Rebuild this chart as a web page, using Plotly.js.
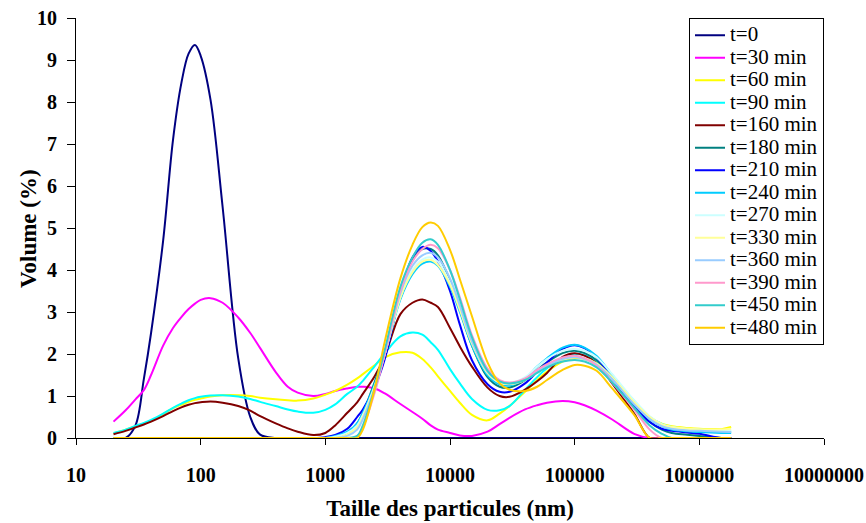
<!DOCTYPE html>
<html>
<head>
<meta charset="utf-8">
<script src="https://cdn.plot.ly/plotly-3.0.1.min.js"></script>
<style>html,body{margin:0;padding:0;background:#fff;}#chart{width:866px;height:523px;}</style>
</head>
<body>
<div id="chart"></div>
<script>
// Particle size (nm)
const sizes = [20,25,30,35,40,50,60,70,80,90,
  100,120,150,200,250,300,400,500,600,800,
  1000,1200,1500,1800,2000,2500,3000,4000,5000,6000,
  7000,8000,10000,12000,15000,20000,25000,30000,40000,50000,
  60000,80000,100000,120000,150000,200000,300000,400000,500000,600000,
  800000,1000000,1500000,1800000];

const t0 = [0,0,0.3,1.4,2.5,4.7,7.1,8.45,9.15,9.36,
  9.1,8.05,5.5,1.9,0.5,0.08,0,0,0,0,
  0,0,0,0,0,0,0,0,0,0,
  0,0,0,0,0,0,0,0,0,0,
  0,0,0,0,0,0,0,0,0,0,
  0,0,0,0];
const t30 = [0.39,0.66,0.92,1.14,1.5,2.2,2.62,2.88,3.07,3.2,
  3.29,3.33,3.22,2.87,2.5,2.14,1.57,1.22,1.08,1.0,
  1.05,1.12,1.18,1.22,1.22,1.18,1.06,0.81,0.62,0.46,
  0.3,0.2,0.12,0.06,0.05,0.15,0.33,0.48,0.68,0.78,
  0.84,0.88,0.85,0.78,0.65,0.44,0.1,0,0,0,
  0,0,0,0];
const t60 = [0.11,0.2,0.28,0.34,0.4,0.57,0.71,0.79,0.86,0.91,
  0.94,0.99,1.02,1.02,1.0,0.96,0.92,0.9,0.89,0.94,
  1.03,1.12,1.27,1.42,1.52,1.74,1.92,2.04,2.03,1.88,
  1.68,1.47,1.12,0.84,0.55,0.42,0.58,0.76,1.1,1.38,
  1.58,1.82,1.9,1.88,1.76,1.42,0.85,0.5,0.34,0.28,
  0.24,0.22,0.21,0.26];
const t90 = [0.12,0.2,0.29,0.36,0.43,0.58,0.72,0.82,0.9,0.95,
  0.98,1.01,1.02,0.99,0.93,0.86,0.76,0.68,0.63,0.6,
  0.67,0.8,1.05,1.22,1.36,1.72,2.02,2.42,2.51,2.46,
  2.28,2.1,1.64,1.3,0.93,0.67,0.66,0.76,1.15,1.45,
  1.66,1.9,2.0,1.97,1.83,1.46,0.88,0.5,0.33,0.26,
  0.2,0.18,0.16,0.15];
const t160 = [0.09,0.17,0.25,0.32,0.39,0.52,0.64,0.73,0.79,0.83,
  0.85,0.87,0.84,0.76,0.65,0.52,0.35,0.23,0.15,0.07,
  0.12,0.3,0.6,0.85,1.05,1.48,1.95,2.95,3.22,3.3,
  3.22,3.12,2.62,2.18,1.7,1.2,1.0,0.98,1.15,1.35,
  1.55,1.93,2.02,1.96,1.78,1.3,0.58,0,0,0,
  0,0,0,0];
const t180 = [0,0,0,0,0,0,0,0,0,0,
  0,0,0,0,0,0,0,0,0,0,
  0,0,0.1,0.35,0.6,1.35,2.05,3.5,4.25,4.5,
  4.5,4.35,3.75,3.05,2.2,1.45,1.22,1.2,1.38,1.62,
  1.8,2.02,2.08,2.02,1.85,1.42,0.78,0.38,0.2,0.12,
  0.08,0.05,0,0];
const t210 = [0,0,0,0,0,0,0,0,0,0,
  0,0,0,0,0,0,0,0,0,0,
  0.02,0.07,0.22,0.5,0.68,1.22,1.88,3.45,4.3,4.55,
  4.45,4.2,3.5,2.7,1.85,1.28,1.1,1.1,1.3,1.58,
  1.8,2.12,2.21,2.14,1.92,1.42,0.75,0.38,0.22,0.17,
  0.13,0.1,0,0];
const t240 = [0,0,0,0,0,0,0,0,0,0,
  0,0,0,0,0,0,0,0,0,0,
  0,0.05,0.15,0.35,0.6,1.3,2.0,3.3,3.9,4.15,
  4.2,4.1,3.6,3.0,2.2,1.5,1.28,1.25,1.42,1.7,
  1.9,2.15,2.22,2.15,1.95,1.5,0.85,0.45,0.28,0.2,
  0.16,0.14,0.12,0.12];
const t270 = [0,0,0,0,0,0,0,0,0,0,
  0,0,0,0,0,0,0,0,0,0,
  0,0.03,0.12,0.3,0.55,1.25,2.0,3.35,4.0,4.25,
  4.3,4.2,3.7,3.1,2.3,1.55,1.32,1.3,1.45,1.7,
  1.88,2.08,2.12,2.08,1.92,1.52,0.9,0.52,0.33,0.26,
  0.22,0.2,0.18,0.18];
const t330 = [0,0,0,0,0,0,0,0,0,0,
  0,0,0,0,0,0,0,0,0,0,
  0,0,0.08,0.25,0.5,1.25,2.0,3.35,3.95,4.2,
  4.24,4.12,3.65,3.05,2.25,1.55,1.32,1.28,1.38,1.56,
  1.7,1.86,1.92,1.9,1.78,1.45,0.85,0.5,0.32,0.26,
  0.22,0.2,0.2,0.22];
const t360 = [0,0,0,0,0,0,0,0,0,0,
  0,0,0,0,0,0,0,0,0,0,
  0,0,0.05,0.2,0.45,1.2,2.0,3.45,4.1,4.35,
  4.41,4.3,3.8,3.15,2.3,1.58,1.35,1.3,1.4,1.58,
  1.72,1.88,1.92,1.88,1.75,1.4,0.8,0.45,0.28,0.22,
  0.18,0.17,0.15,0.14];
const t390 = [0,0,0,0,0,0,0,0,0,0,
  0,0,0,0,0,0,0,0,0,0,
  0,0,0,0.03,0.25,1.1,2.0,3.5,4.2,4.5,
  4.6,4.52,4.0,3.35,2.45,1.65,1.38,1.32,1.42,1.62,
  1.76,1.92,1.96,1.9,1.72,1.32,0.68,0.2,0,0,
  0,0,0,0];
const t450 = [0,0,0,0,0,0,0,0,0,0,
  0,0,0,0,0,0,0,0,0,0,
  0,0,0,0.05,0.3,1.2,2.1,3.6,4.3,4.65,
  4.73,4.6,4.0,3.3,2.4,1.6,1.35,1.3,1.38,1.55,
  1.68,1.82,1.86,1.82,1.68,1.32,0.72,0.3,0.1,0,
  0,0,0,0];
const t480 = [0,0,0,0,0,0,0,0,0,0,
  0,0,0,0,0,0,0,0,0,0,
  0,0,0,0,0.2,1.2,2.3,3.8,4.6,5.02,
  5.13,5.05,4.48,3.78,2.9,1.8,1.3,1.15,1.12,1.22,
  1.38,1.62,1.74,1.72,1.6,1.18,0.55,0,0,0,
  0,0,0,0];

const seriesLabels = ["t=0","t=30 min","t=60 min","t=90 min","t=160 min","t=180 min","t=210 min",
  "t=240 min","t=270 min","t=330 min","t=360 min","t=390 min","t=450 min","t=480 min"];
const seriesValues = [t0,t30,t60,t90,t160,t180,t210,t240,t270,t330,t360,t390,t450,t480];
const seriesColors = ["#000080","#FF00FF","#FFFF00","#00FFFF","#800000","#008080","#0000FF",
  "#00CCFF","#CCFFFF","#FFFF99","#99CCFF","#FF99CC","#33CCCC","#FFCC00"];

const xTickVals = [10,100,1000,10000,100000,1000000,10000000];
const xTickText = ["10","100","1000","10000","100000","1000000","10000000"];
const xTitle = "Taille des particules (nm)";
const yTitle = "Volume (%)";

const FONT = "'Liberation Serif', 'Times New Roman', serif";

const traces = seriesValues.map((vals, i) => ({
  type: "scatter",
  mode: "lines",
  x: sizes,
  y: vals,
  name: '<span style="font-size:21px">' + seriesLabels[i] + '</span>',
  line: {color: seriesColors[i], width: 2, shape: "spline", smoothing: 1},
  hoverinfo: "skip"
}));

const layout = {
  width: 866,
  height: 523,
  margin: {l: 76, r: 42, t: 18, b: 85, pad: 0},
  paper_bgcolor: "#fff",
  plot_bgcolor: "#fff",
  font: {family: FONT, color: "#000"},
  showlegend: true,
  legend: {
    x: 1, xanchor: "right", y: 1, yanchor: "top",
    maxheight: 1,
    bgcolor: "#fff", bordercolor: "#000", borderwidth: 1,
    font: {family: FONT, size: 15, color: "#000"},
    itemwidth: 30, tracegroupgap: 0
  },
  xaxis: {
    type: "log",
    range: [1, 7],
    tickvals: xTickVals,
    ticktext: xTickText,
    ticks: "outside", ticklen: 6, tickwidth: 1, tickcolor: "#000",
    showline: true, linecolor: "#000", linewidth: 1,
    showgrid: false, zeroline: false,
    tickfont: {family: FONT, size: 20, weight: "bold", color: "#000"},
    ticklabelstandoff: 13,
    automargin: false,
    title: {text: xTitle, font: {family: FONT, size: 23, weight: "bold", color: "#000"}, standoff: 14}
  },
  yaxis: {
    range: [0, 10],
    dtick: 1,
    tick0: 0,
    ticks: "outside", ticklen: 8, tickwidth: 1, tickcolor: "#000",
    showline: true, linecolor: "#000", linewidth: 1,
    showgrid: false, zeroline: false,
    tickfont: {family: FONT, size: 20, weight: "bold", color: "#000"},
    ticklabelstandoff: 6,
    automargin: false
  },
  annotations: [{
    text: yTitle,
    xref: "paper", yref: "paper",
    x: -0.0642, y: 0.5,
    xanchor: "center", yanchor: "middle",
    textangle: -90,
    showarrow: false,
    font: {family: FONT, size: 23, weight: "bold", color: "#000"}
  }]
};

Plotly.newPlot("chart", traces, layout, {staticPlot: true, displayModeBar: false});
</script>
</body>
</html>
